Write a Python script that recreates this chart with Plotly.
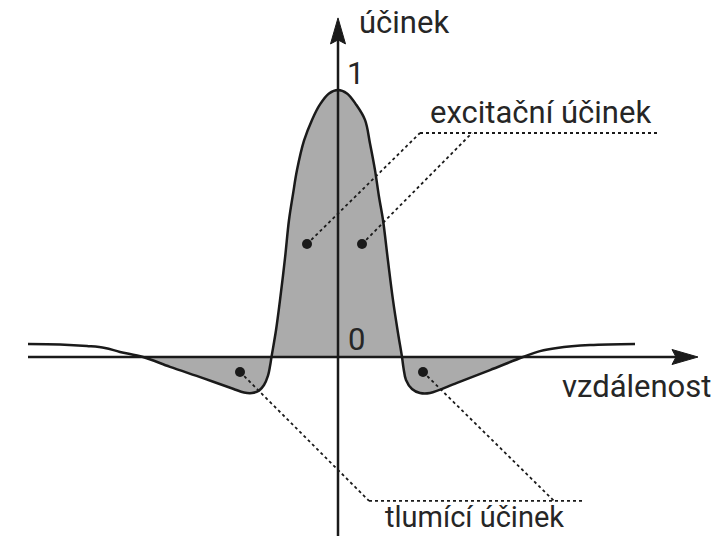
import plotly.graph_objects as go

# ---------------- data ----------------
# curve: distance (x) vs effect (y); effect 1 at the peak, 0 on the distance axis
curve_x = [-3.10, -2.78, -2.51, -2.33, -2.18, -1.95, -1.68, -1.35, -1.05, -0.94,
           -0.86, -0.79, -0.74, -0.70, -0.68, -0.665, -0.62, -0.58, -0.53, -0.49, -0.45,
           -0.41, -0.34, -0.26, -0.18, -0.09, 0.00, 0.09, 0.18, 0.27, 0.32,
           0.37, 0.41, 0.45, 0.50, 0.55, 0.60, 0.64, 0.655, 0.68, 0.74,
           0.82, 0.92, 1.19, 1.52, 1.85, 2.02, 2.19, 2.52, 2.97]
curve_y = [0.049, 0.047, 0.041, 0.034, 0.019, 0.000, -0.037, -0.079, -0.119, -0.133,
           -0.135, -0.126, -0.105, -0.070, -0.035, 0.000, 0.100, 0.213, 0.370, 0.513, 0.610,
           0.700, 0.810, 0.888, 0.946, 0.987, 1.000, 0.987, 0.946, 0.888, 0.800,
           0.700, 0.600, 0.513, 0.360, 0.213, 0.090, 0.000, -0.041, -0.086, -0.120,
           -0.135, -0.135, -0.097, -0.049, 0.000, 0.022, 0.034, 0.045, 0.049]
fill_from, fill_to = -1.95, 1.85          # outer zero crossings: shaded region

# axes extent (data units)
x_axis_start, x_axis_tip = -3.10, 3.60
y_axis_bottom, y_axis_tip = -0.70, 1.27

# texts
label_y = "účinek"
label_x = "vzdálenost"
tick_one, tick_zero = "1", "0"
label_exc = "excitační účinek"
label_inh = "tlumící účinek"

# label anchor positions (data units)
pos_label_y = (0.19, 1.253)
pos_label_x = (2.22, -0.110)
pos_one = (0.17, 1.060)
pos_zero = (0.185, 0.066)
pos_exc = (0.90, 0.916)
pos_inh = (0.45, -0.6695)     # bottom-anchored caption

# leader lines: dots on the regions and the underline of each caption
exc_dots_x = [-0.31, 0.24]
exc_dots_y = [0.423, 0.423]
exc_join_x = [0.82, 1.34]
exc_line_y = 0.839
exc_line_x = (0.82, 3.19)

inh_dots_x = [-0.98, 0.85]
inh_dots_y = [-0.056, -0.056]
inh_join_x = [0.31, 2.16]
inh_line_y = -0.539
inh_line_x = (0.31, 2.47)

# ---------------- geometry of the canvas ----------------
W, H = 726, 536
X0_PX, Y0_PX = 338, 357      # pixel position of the origin
XS, YS = 100.0, 267.0        # pixels per data unit
x_range = [-X0_PX / XS, (W - X0_PX) / XS]
y_range = [-(H - Y0_PX) / YS, Y0_PX / YS]

INK = "#1a1a1a"
TXT = "#262626"
FILL = "#ababab"
FONT = "Roboto"
FS = 31
FS_BOTTOM = 29

fig = go.Figure()

# shaded area between curve and the zero line
fx = [x for x in curve_x if fill_from <= x <= fill_to]
fy = [y for x, y in zip(curve_x, curve_y) if fill_from <= x <= fill_to]
fig.add_trace(go.Scatter(x=fx, y=fy, mode="lines", line=dict(width=0, shape="spline", smoothing=1),
                         fill="tozeroy", fillcolor=FILL, hoverinfo="skip"))

# axes lines
fig.add_trace(go.Scatter(x=[x_axis_start, x_axis_tip - 20 / XS], y=[0, 0], mode="lines",
                         line=dict(color=INK, width=2.5), hoverinfo="skip"))
fig.add_trace(go.Scatter(x=[0, 0], y=[y_axis_bottom, y_axis_tip - 20 / YS], mode="lines",
                         line=dict(color=INK, width=2.5), hoverinfo="skip"))

# curve outline
fig.add_trace(go.Scatter(x=curve_x, y=curve_y, mode="lines",
                         line=dict(color=INK, width=2.5, shape="spline", smoothing=1), hoverinfo="skip"))

# arrow heads (length 26 px, half width 7.5 px, slight notch)
L, HW, N = 26, 7.5, 4
ax_x = [x_axis_tip, x_axis_tip - L / XS, x_axis_tip - (L - N) / XS, x_axis_tip - L / XS, x_axis_tip]
ax_y = [0, HW / YS, 0, -HW / YS, 0]
fig.add_trace(go.Scatter(x=ax_x, y=ax_y, mode="lines", fill="toself", fillcolor=INK,
                         line=dict(color=INK, width=1), hoverinfo="skip"))
ay_x = [0, HW / XS, 0, -HW / XS, 0]
ay_y = [y_axis_tip, y_axis_tip - L / YS, y_axis_tip - (L - N) / YS, y_axis_tip - L / YS, y_axis_tip]
fig.add_trace(go.Scatter(x=ay_x, y=ay_y, mode="lines", fill="toself", fillcolor=INK,
                         line=dict(color=INK, width=1), hoverinfo="skip"))

# leader lines (dotted)
dot_line = dict(color=INK, width=1.8, dash="dot")
fig.add_trace(go.Scatter(x=list(exc_line_x), y=[exc_line_y, exc_line_y], mode="lines", line=dot_line, hoverinfo="skip"))
for dx, dy, jx in zip(exc_dots_x, exc_dots_y, exc_join_x):
    fig.add_trace(go.Scatter(x=[dx, jx], y=[dy, exc_line_y], mode="lines", line=dot_line, hoverinfo="skip"))
fig.add_trace(go.Scatter(x=list(inh_line_x), y=[inh_line_y, inh_line_y], mode="lines", line=dot_line, hoverinfo="skip"))
for dx, dy, jx in zip(inh_dots_x, inh_dots_y, inh_join_x):
    fig.add_trace(go.Scatter(x=[dx, jx], y=[dy, inh_line_y], mode="lines", line=dot_line, hoverinfo="skip"))

# dots
fig.add_trace(go.Scatter(x=exc_dots_x + inh_dots_x, y=exc_dots_y + inh_dots_y, mode="markers",
                         marker=dict(color=INK, size=10), hoverinfo="skip"))

# text labels
def label(text, pos, anchor="left", yanchor="middle", size=FS):
    fig.add_annotation(x=pos[0], y=pos[1], text=text, showarrow=False, xanchor=anchor, yanchor=yanchor,
                       font=dict(family=FONT, size=size, color=TXT))

label(label_y, pos_label_y)
label(label_x, pos_label_x)
label(tick_one, pos_one, "center")
label(tick_zero, pos_zero, "center")
label(label_exc, pos_exc)
label(label_inh, pos_inh, "left", "bottom", FS_BOTTOM)

fig.update_layout(
    width=W, height=H, autosize=False,
    margin=dict(l=0, r=0, t=0, b=0),
    paper_bgcolor="white", plot_bgcolor="white",
    showlegend=False,
    xaxis=dict(range=x_range, visible=False, fixedrange=True),
    yaxis=dict(range=y_range, visible=False, fixedrange=True),
)

fig.write_html("out.html", config={"displayModeBar": False},
               post_script="document.body.style.margin='0';document.body.style.overflow='hidden';")
